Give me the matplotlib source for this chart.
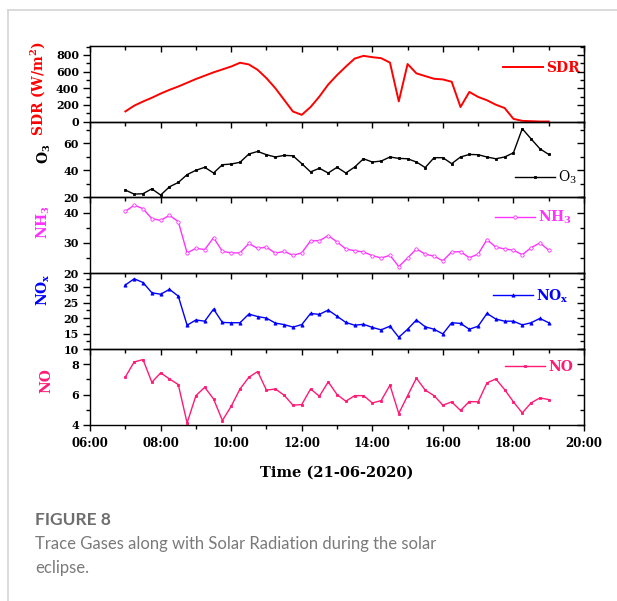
import matplotlib
matplotlib.use("Agg")
import matplotlib.pyplot as plt
import matplotlib.dates as mdates
from matplotlib.ticker import MultipleLocator
from matplotlib.lines import Line2D
import pandas as pd

plt.rcParams['mathtext.fontset'] = 'dejavuserif'
plt.rcParams['mathtext.default'] = 'bf'

# 15-minute readings, 07:00 - 19:00
times = pd.date_range("2020-06-21 07:00", "2020-06-21 19:00", freq="15min")

sdr = [121, 190, 240, 285, 335, 380, 420, 465, 510, 550, 590, 625, 660, 705, 685,
       620, 520, 400, 260, 120, 80, 174, 300, 444, 557, 659, 755, 788, 772, 760,
       707, 242, 690, 578, 545, 513, 505, 477, 174, 355, 295, 255, 202, 162, 32,
       8, 4, 0, 0]
o3 = [25.4, 22.4, 22.7, 26.3, 21.7, 27.8, 31.0, 36.8, 40.0, 42.2, 38.0, 44.1, 44.6,
      45.9, 52.0, 53.9, 51.5, 49.8, 51.0, 50.7, 44.9, 38.8, 41.5, 38.0, 42.2, 38.0,
      42.4, 48.5, 46.1, 46.8, 49.8, 48.8, 48.5, 46.1, 42.0, 49.3, 49.3, 44.9, 49.8,
      51.7, 51.5, 49.8, 48.5, 49.8, 52.9, 70.7, 63.2, 55.9, 51.7]
nh3 = [40.4, 42.4, 41.3, 38.0, 37.4, 39.1, 37.0, 26.7, 28.2, 27.8, 31.7, 27.2, 26.7,
       26.7, 29.8, 28.2, 28.6, 26.6, 27.2, 25.9, 26.7, 30.7, 30.7, 32.4, 30.3, 28.0,
       27.4, 27.0, 25.8, 25.0, 25.9, 22.2, 25.0, 28.0, 26.3, 25.6, 24.1, 27.0, 27.1,
       25.1, 26.3, 31.1, 28.6, 28.0, 27.6, 26.1, 28.4, 30.0, 27.6]
nox = [30.7, 32.7, 31.5, 28.2, 27.7, 29.3, 27.1, 17.7, 19.4, 19.0, 22.9, 18.6, 18.5,
       18.5, 21.3, 20.5, 20.0, 18.4, 17.9, 17.1, 17.9, 21.5, 21.2, 22.6, 20.6, 18.6,
       17.7, 18.0, 17.0, 16.2, 17.4, 13.8, 16.4, 19.4, 17.2, 16.4, 14.9, 18.5, 18.3,
       16.4, 17.4, 21.5, 19.7, 19.0, 19.0, 17.8, 18.5, 19.9, 18.5]
no = [7.16, 8.15, 8.31, 6.81, 7.43, 7.03, 6.66, 4.13, 5.93, 6.48, 5.71, 4.29, 5.23,
      6.37, 7.14, 7.52, 6.29, 6.37, 5.96, 5.30, 5.34, 6.37, 5.89, 6.84, 6.00, 5.56,
      5.93, 5.93, 5.45, 5.60, 6.62, 4.75, 5.93, 7.08, 6.29, 5.93, 5.30, 5.52, 4.95,
      5.54, 5.52, 6.77, 7.03, 6.33, 5.52, 4.79, 5.45, 5.78, 5.67]

series = [sdr, o3, nh3, nox, no]
ylabels = ["SDR (W/m$^2$)", "O$_3$", "NH$_3$", "NO$_x$", "NO"]
legend_labels = ["SDR", "O$_\\mathrm{3}$", "NH$_3$", "NO$_x$", "NO"]

# styles per panel
colors = ["#ff0000", "#000000", "#ff33ff", "#0000ff", "#ff1a75"]
markers = [None, "s", "o", "^", "s"]
msizes = [0, 1.6, 2.4, 2.3, 2.1]
mfaces = [None, "#000000", "white", "#0000ff", "#ff1a75"]
lws = [1.4, 1.0, 1.0, 1.0, 1.0]
ylims = [(0, 910), (20, 76), (20, 45), (10, 34.5), (4, 9)]
majors = [200, 20, 10, 5, 2]
minors = [100, 10, 5, 2.5, 1]
label_pos = [(-0.087, 0.43), (-0.075, 0.57), (-0.077, 0.67), (-0.077, 0.78), (-0.075, 0.58)]
leg_pos = [(0.836, 0.707), (0.860, 0.263), (0.820, 0.733), (0.816, 0.70), (0.840, 0.76)]

fig, axes = plt.subplots(5, 1, figsize=(6.17, 6.01), dpi=100, sharex=True)
fig.subplots_adjust(left=0.146, right=0.9465, top=0.924, bottom=0.293, hspace=0)

tickfont = {'family': 'DejaVu Serif', 'weight': 'bold', 'size': 8}

for k, ax in enumerate(axes):
    ax.set_facecolor('none')
    ax.plot(times, series[k], color=colors[k], lw=lws[k], marker=markers[k],
            markersize=msizes[k], markerfacecolor=mfaces[k], markeredgecolor=colors[k],
            markeredgewidth=0.6, label=legend_labels[k])
    ax.set_ylim(*ylims[k])
    ax.yaxis.set_major_locator(MultipleLocator(majors[k]))
    ax.yaxis.set_minor_locator(MultipleLocator(minors[k]))
    ax.tick_params(axis='y', which='both', direction='out', left=True, right=False,
                   width=1)
    ax.tick_params(axis='y', which='major', length=5, pad=3)
    ax.tick_params(axis='y', which='minor', length=3)
    ax.tick_params(axis='x', which='both', direction='out', bottom=True, top=False,
                   width=1)
    ax.tick_params(axis='x', which='major', length=4, pad=5)
    ax.tick_params(axis='x', which='minor', length=3)
    for lab in ax.get_yticklabels():
        lab.set_fontproperties(tickfont)
    for sp in ax.spines.values():
        sp.set_linewidth(1.0)

    # right side ticks pointing in
    sec = ax.secondary_yaxis('right')
    sec.yaxis.set_major_locator(MultipleLocator(majors[k]))
    sec.yaxis.set_minor_locator(MultipleLocator(minors[k]))
    sec.tick_params(axis='y', which='both', direction='in', labelright=False, width=1)
    sec.tick_params(axis='y', which='major', length=5)
    sec.tick_params(axis='y', which='minor', length=3)

    ax.set_ylabel(ylabels[k], color=colors[k], fontsize=10, fontweight='bold',
                  family='DejaVu Serif')
    ax.yaxis.set_label_coords(*label_pos[k])

    weight = 'normal' if k == 1 else 'bold'
    ax.legend(loc='center left', bbox_to_anchor=leg_pos[k], frameon=False,
              handlelength=2.9, handletextpad=0.2, borderpad=0, borderaxespad=0,
              numpoints=1, labelcolor='linecolor',
              prop={'family': 'DejaVu Serif', 'weight': weight, 'size': 10})

# top axis ticks of the first panel point into the plot
top = axes[0].secondary_xaxis('top')
top.xaxis.set_major_locator(mdates.HourLocator(interval=2))
top.xaxis.set_minor_locator(mdates.HourLocator())
top.tick_params(axis='x', which='both', direction='in', labeltop=False, width=1)
top.tick_params(axis='x', which='major', length=4)
top.tick_params(axis='x', which='minor', length=3)

axes[-1].set_xlim(pd.Timestamp("2020-06-21 06:00"), pd.Timestamp("2020-06-21 20:00"))
axes[-1].xaxis.set_major_locator(mdates.HourLocator(interval=2))
axes[-1].xaxis.set_minor_locator(mdates.HourLocator())
axes[-1].xaxis.set_major_formatter(mdates.DateFormatter('%H:%M'))
for lab in axes[-1].get_xticklabels():
    lab.set_fontproperties({'family': 'DejaVu Serif', 'weight': 'bold', 'size': 8.5})

fig.text(337 / 617, 1 - 473 / 601, "Time (21-06-2020)", ha='center', va='center',
         family='DejaVu Serif', fontweight='bold', fontsize=10.5)

# caption
fig.text(35 / 617, 1 - 520 / 601, "FIGURE 8", ha='left', va='center',
         family='Lato', fontweight='bold', fontsize=12.5, color='#6e6e6e')
fig.text(35 / 617, 1 - 544 / 601,
         "Trace Gases along with Solar Radiation during the solar", ha='left',
         va='center', family='Lato', fontsize=12, color='#7a7a7a')
fig.text(35 / 617, 1 - 568 / 601, "eclipse.", ha='left', va='center',
         family='Lato', fontsize=12, color='#7a7a7a')

# page frame lines
fig.add_artist(Line2D([8 / 617, 1], [1 - 9.5 / 601, 1 - 9.5 / 601],
                      transform=fig.transFigure, color='#d4d4d4', lw=1.2))
fig.add_artist(Line2D([8 / 617, 8 / 617], [0, 1 - 9.5 / 601],
                      transform=fig.transFigure, color='#d4d4d4', lw=1.2))

fig.savefig("out.png", dpi=100)
